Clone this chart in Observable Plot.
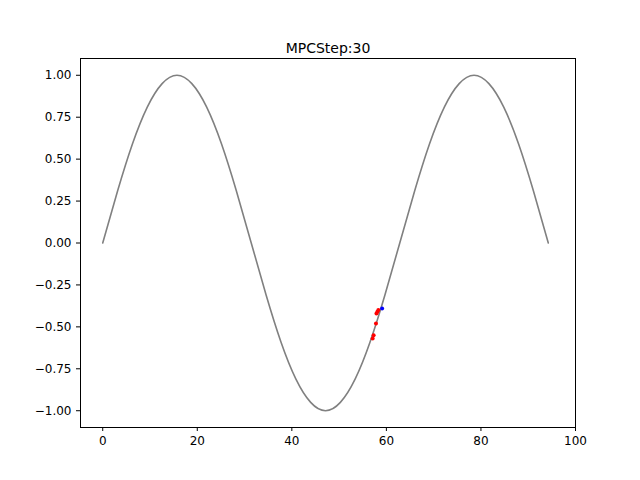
<!DOCTYPE html>
<html><head>
<meta charset="utf-8">
<script src="https://cdn.jsdelivr.net/npm/d3@7"></script>
<script src="https://cdn.jsdelivr.net/npm/@observablehq/plot@0.6"></script>
<style>body{margin:0;background:#fff;font-family:"DejaVu Sans",sans-serif}</style>
</head><body>
<div id="chart"></div>
<script>
// reference course, sampled every pi units along x
const courseX = d3.range(31).map(k => k * Math.PI);
const courseY = [0,0.31,0.59,0.81,0.95,1,0.95,0.81,0.59,0.31,0,-0.31,-0.59,-0.81,-0.95,-1,-0.95,-0.81,-0.59,-0.31,0,0.31,0.59,0.81,0.95,1,0.95,0.81,0.59,0.31,0];
// predicted states (red) and current position (blue)
const predX = [57.9, 58.1, 58.3, 57.8, 57.3, 57.1];
const predY = [-0.42, -0.41, -0.40, -0.48, -0.55, -0.57];
const carX = [59.1];
const carY = [-0.39];

const course = courseX.map((x, i) => ({x, y: courseY[i]}));
const pred = predX.map((x, i) => ({x, y: predY[i]}));
const car = carX.map((x, i) => ({x, y: carY[i]}));

const chart = Plot.plot({
  width: 640, height: 480,
  marginLeft: 80, marginRight: 65, marginTop: 58, marginBottom: 53,
  style: {fontSize: "12px", fontFamily: "DejaVu Sans", color: "#000"},
  x: {domain: [-4.7, 100], ticks: [0,20,40,60,80,100], tickSize: 4, label: null},
  y: {domain: [-1.1, 1.1], ticks: d3.range(-1, 1.01, 0.25), tickFormat: d3.format(".2f"), tickSize: 4, label: null},
  marks: [
    Plot.frame({stroke: "#000"}),
    Plot.line(course, {x: "x", y: "y", stroke: "gray", strokeWidth: 1.6, curve: "natural"}),
    Plot.dot(pred, {x: "x", y: "y", fill: "red", r: 2}),
    Plot.dot(car, {x: "x", y: "y", fill: "blue", r: 2}),
    Plot.text(["MPCStep:30"], {frameAnchor: "top", dy: -15, fontSize: 14})
  ]
});
d3.select('#chart').append(() => chart);
</script>
</body></html>
